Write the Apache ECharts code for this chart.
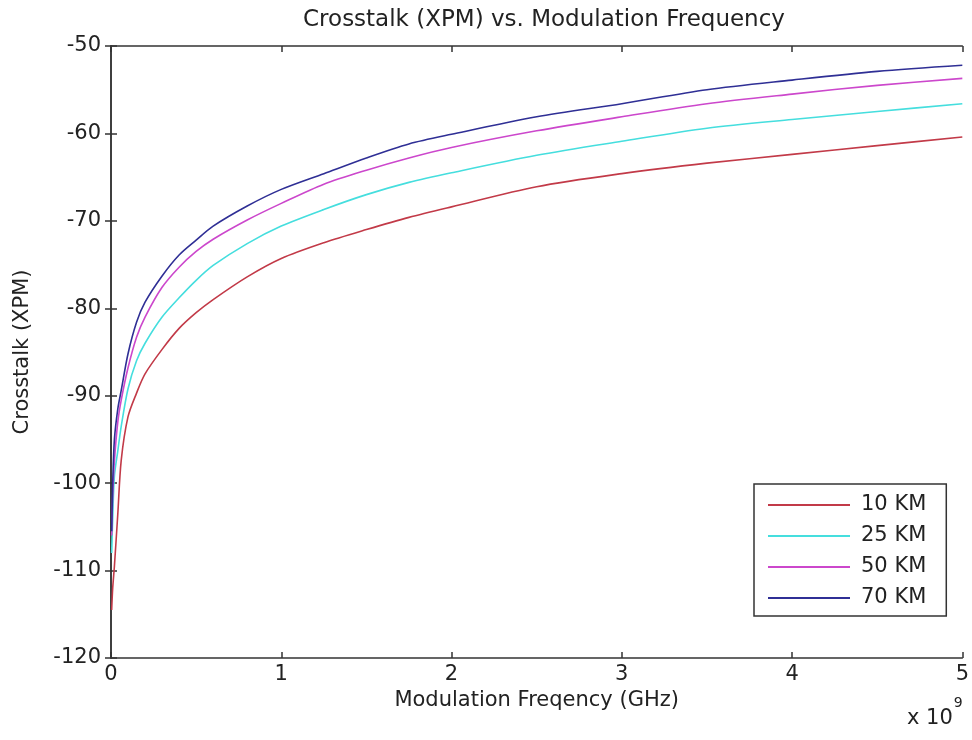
<!DOCTYPE html>
<html>
<head>
<meta charset="utf-8">
<script src="https://cdn.jsdelivr.net/npm/echarts@6/dist/echarts.min.js"></script>
<style>html,body{margin:0;padding:0;background:#fff}#c{width:972px;height:740px}</style>
</head>
<body>
<div id="c"></div>
<script>
// Modulation frequency in units of 1e9 Hz
const freq = [0.004, 0.01, 0.02, 0.04, 0.06, 0.1, 0.15, 0.2, 0.3, 0.4, 0.5, 0.6, 0.8, 1.0, 1.25, 1.5, 1.75, 2.0, 2.5, 3.0, 3.5, 4.0, 4.5, 5.0];
const km10 = [-114.5, -112, -109.5, -103.5, -97.4, -92.4, -89.7, -87.5, -84.7, -82.3, -80.5, -79.0, -76.4, -74.3, -72.5, -71.0, -69.6, -68.4, -66.1, -64.6, -63.4, -62.4, -61.4, -60.4];
const km25 = [-108, -104, -99.2, -96.3, -93.5, -89.2, -86.0, -84.0, -81.0, -78.8, -76.8, -75.1, -72.6, -70.6, -68.7, -67.0, -65.6, -64.5, -62.5, -60.9, -59.4, -58.4, -57.5, -56.6];
const km50 = [-106, -101.5, -97.5, -93.0, -90.5, -86.8, -83.3, -81.0, -77.6, -75.3, -73.5, -72.1, -69.9, -68.0, -65.8, -64.2, -62.8, -61.6, -59.7, -58.1, -56.6, -55.5, -54.5, -53.7];
const km70 = [-105.5, -100, -95.0, -91.5, -89.4, -85.2, -81.6, -79.3, -76.3, -73.9, -72.2, -70.6, -68.3, -66.4, -64.6, -62.8, -61.2, -60.1, -58.1, -56.6, -55.0, -53.9, -52.9, -52.2];
const seriesNames = ['10 KM', '25 KM', '50 KM', '70 KM'];
const seriesColors = ['#c23a48', '#45dede', '#cc47cc', '#2f2f95'];
const xTicks = [0, 1, 2, 3, 4, 5];
const yTicks = [-120, -110, -100, -90, -80, -70, -60, -50];

const allValues = [km10, km25, km50, km70];
const font = 'DejaVu Sans, sans-serif';
const fs = 21;
const chart = echarts.init(document.getElementById('c'));
const axisLine = {show: true, lineStyle: {color: '#333', width: 1.5}};
const tick = {show: true, inside: true, length: 6, lineStyle: {color: '#333', width: 1.5}};
chart.setOption({
  animation: false,
  backgroundColor: '#fff',
  title: {
    text: 'Crosstalk (XPM) vs. Modulation Frequency',
    left: 539, top: 4, textAlign: 'center',
    textStyle: {fontFamily: font, fontSize: 23, fontWeight: 'normal', color: '#222'}
  },
  grid: {left: 111, top: 46, right: 6, bottom: 82},
  legend: {
    data: seriesNames,
    orient: 'vertical',
    left: 754, top: 484,
    padding: [10, 20, 7, 14],
    icon: 'rect',
    itemWidth: 82, itemHeight: 2, itemGap: 9,
    borderColor: '#333', borderWidth: 1.5,
    backgroundColor: '#fff',
    textStyle: {fontFamily: font, fontSize: fs, color: '#222', lineHeight: 22, padding: [0, 0, 0, 6]}
  },
  xAxis: [{
    type: 'value', min: 0, max: 5, interval: 1,
    name: 'Modulation Freqency (GHz)', nameLocation: 'middle', nameGap: 25,
    nameTextStyle: {fontFamily: font, fontSize: fs, color: '#222'},
    axisLine: axisLine, axisTick: tick, splitLine: {show: false},
    axisLabel: {fontFamily: font, fontSize: fs, color: '#222', margin: 6,
      formatter: v => xTicks.includes(v) ? String(v) : ''}
  }, {
    type: 'value', min: 0, max: 5, interval: 1, position: 'top',
    axisLine: axisLine, axisTick: tick, axisLabel: {show: false}, splitLine: {show: false}
  }],
  yAxis: [{
    type: 'value', min: -120, max: -50, interval: 10,
    name: 'Crosstalk (XPM)', nameLocation: 'middle', nameGap: 78, nameRotate: 90,
    nameTextStyle: {fontFamily: font, fontSize: fs, color: '#222'},
    axisLine: axisLine, axisTick: tick, splitLine: {show: false},
    axisLabel: {fontFamily: font, fontSize: fs, color: '#222', margin: 10,
      formatter: v => yTicks.includes(v) ? String(v) : ''}
  }, {
    type: 'value', min: -120, max: -50, interval: 10, position: 'right',
    axisLine: axisLine, axisTick: tick, axisLabel: {show: false}, splitLine: {show: false}
  }],
  graphic: [{
    type: 'text', left: 907, top: 696,
    style: {
      text: '{a|x 10}{b|9}',
      rich: {
        a: {fontFamily: font, fontSize: fs, fill: '#222', padding: [12, 1, 0, 0]},
        b: {fontFamily: font, fontSize: 14, fill: '#222', verticalAlign: 'top'}
      }
    }
  }],
  series: allValues.map((vals, i) => ({
    name: seriesNames[i],
    type: 'line',
    xAxisIndex: 0, yAxisIndex: 0,
    showSymbol: false, symbol: 'none',
    smooth: 0.3,
    lineStyle: {color: seriesColors[i], width: 1.6},
    itemStyle: {color: seriesColors[i]},
    data: freq.map((f, j) => [f, vals[j]])
  }))
});
</script>
</body>
</html>
